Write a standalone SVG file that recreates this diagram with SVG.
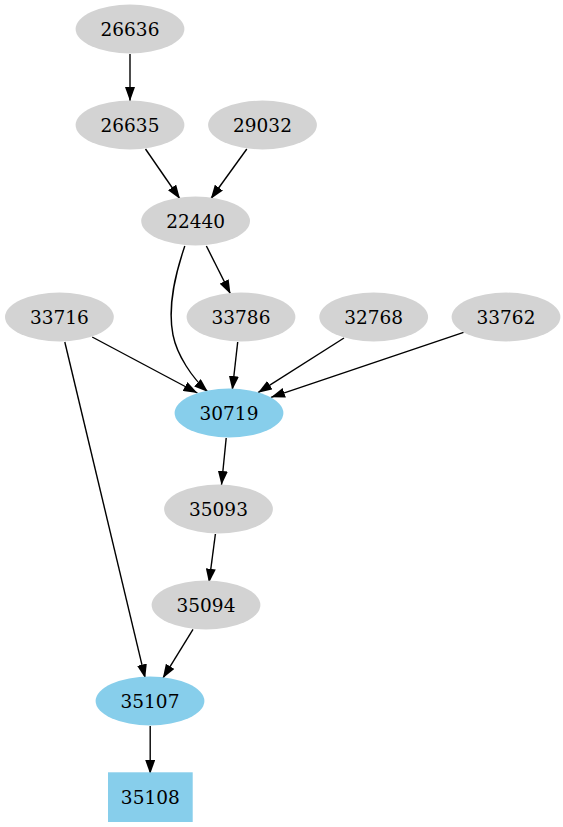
<svg xmlns="http://www.w3.org/2000/svg" width="563" height="827" viewBox="0 0 563 827">
<style>
.g{fill:#d3d3d3}
.b{fill:#87ceeb}
text{font-family:"DejaVu Serif","Liberation Serif",serif;font-size:18.5px;text-anchor:middle;fill:#000}
.e{fill:none;stroke:#000;stroke-width:1.4;marker-end:url(#arr)}
</style>
<defs>
<marker id="arr" viewBox="0 0 14 10" refX="14" refY="5" markerWidth="14" markerHeight="10" markerUnits="userSpaceOnUse" orient="auto">
<path d="M0,0 L14,5 L0,10 z" fill="#000"/>
</marker>
</defs>
<rect width="563" height="827" fill="#fff"/>
<g id="edges">
<path class="e" d="M130,54 L130,101"/>
<path class="e" d="M145.5,149 L180,199"/>
<path class="e" d="M246.8,149 L210.7,199"/>
<path class="e" d="M206.4,246 L230.5,294"/>
<path class="e" d="M184.8,246 C176,272 167,305 173,335 C177,355 192,378 208,392"/>
<path class="e" d="M237.7,342 L232.3,390"/>
<path class="e" d="M92.2,337 L197.4,393"/>
<path class="e" d="M344,338 L258,392.7"/>
<path class="e" d="M463.6,332.3 L271,397.3"/>
<path class="e" d="M64.8,342 L145.2,678.3"/>
<path class="e" d="M226.2,438 L221.5,485"/>
<path class="e" d="M215.4,534 L209,582.7"/>
<path class="e" d="M193,629.3 L162.8,678.3"/>
<path class="e" d="M150.2,726 L150.2,774"/>
</g>
<g id="n26636"><ellipse class="g" cx="130" cy="29" rx="54.4" ry="24.4"/><text x="130" y="35.7">26636</text></g>
<g id="n26635"><ellipse class="g" cx="130" cy="125" rx="54.4" ry="24.4"/><text x="130" y="131.7">26635</text></g>
<g id="n29032"><ellipse class="g" cx="262.5" cy="125" rx="54.4" ry="24.4"/><text x="262.5" y="131.7">29032</text></g>
<g id="n22440"><ellipse class="g" cx="195.6" cy="221" rx="54.4" ry="24.4"/><text x="195.6" y="227.7">22440</text></g>
<g id="n33716"><ellipse class="g" cx="59.4" cy="317" rx="54.4" ry="24.4"/><text x="59.4" y="323.7">33716</text></g>
<g id="n33786"><ellipse class="g" cx="241" cy="317" rx="54.4" ry="24.4"/><text x="241" y="323.7">33786</text></g>
<g id="n32768"><ellipse class="g" cx="373.7" cy="317" rx="54.4" ry="24.4"/><text x="373.7" y="323.7">32768</text></g>
<g id="n33762"><ellipse class="g" cx="506" cy="317" rx="54.4" ry="24.4"/><text x="506" y="323.7">33762</text></g>
<g id="n30719"><ellipse class="b" cx="229" cy="413" rx="54.4" ry="24.4"/><text x="229" y="419.7">30719</text></g>
<g id="n35093"><ellipse class="g" cx="218.5" cy="509" rx="54.4" ry="24.4"/><text x="218.5" y="515.7">35093</text></g>
<g id="n35094"><ellipse class="g" cx="206" cy="605" rx="54.4" ry="24.4"/><text x="206" y="611.7">35094</text></g>
<g id="n35107"><ellipse class="b" cx="150" cy="701" rx="54.4" ry="24.4"/><text x="150" y="707.7">35107</text></g>
<g id="n35108"><rect class="b" x="108" y="772.3" width="84.7" height="49.7"/><text x="150.3" y="803.8">35108</text></g>
</svg>
